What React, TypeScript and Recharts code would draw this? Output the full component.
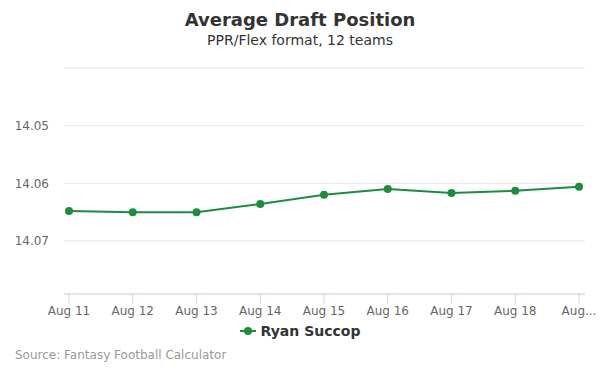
import { LineChart, Line, XAxis, YAxis, CartesianGrid } from "recharts";

const dates = ["Aug 11", "Aug 12", "Aug 13", "Aug 14", "Aug 15", "Aug 16", "Aug 17", "Aug 18", "Aug 19"];
const adp = [14.0648, 14.065, 14.065, 14.0636, 14.062, 14.061, 14.0617, 14.0613, 14.0606];
const yTicks = [14.04, 14.05, 14.06, 14.07];

const GREEN = "#1f8b3e";
const FONT = "'DejaVu Sans', sans-serif";

const data = dates.map((d, i) => ({ date: d, adp: adp[i] }));

export default function App() {
  return (
    <div style={{ position: "absolute", left: 0, top: 0, width: 600, height: 375, background: "#fff", fontFamily: FONT }}>
      <div style={{ position: "absolute", top: 9, width: 600, textAlign: "center", fontSize: 18, fontWeight: "bold", color: "#333" }}>
        Average Draft Position
      </div>
      <div style={{ position: "absolute", top: 32, width: 600, textAlign: "center", fontSize: 14, color: "#333" }}>
        PPR/Flex format, 12 teams
      </div>
      <LineChart width={600} height={375} data={data} margin={{ top: 68, right: 15, bottom: 51, left: 14 }}>
        <CartesianGrid vertical={false} stroke="#e6e6e6" />
        <XAxis
          dataKey="date"
          padding={{ left: 5, right: 6 }}
          stroke="#ccd6eb"
          tickSize={10}
          tickMargin={2}
          height={30}
          interval={0}
          tick={{ fontSize: 12, fill: "#666", fontFamily: FONT }}
          tickFormatter={(v: string, i: number) => (i === dates.length - 1 ? "Aug..." : v)}
        />
        <YAxis
          reversed
          domain={[14.04, 14.0792]}
          ticks={yTicks}
          width={50}
          axisLine={false}
          tickLine={false}
          tickSize={0}
          tickMargin={15}
          allowDataOverflow
          tick={{ fontSize: 12, fill: "#666", fontFamily: FONT }}
          tickFormatter={(v: number) => (v === 14.04 ? "" : v.toFixed(2))}
        />
        <Line
          type="linear"
          dataKey="adp"
          stroke={GREEN}
          strokeWidth={2}
          dot={{ r: 4, fill: GREEN, stroke: GREEN, strokeWidth: 0 }}
          isAnimationActive={false}
        />
      </LineChart>
      <div style={{ position: "absolute", top: 323, width: 600, display: "flex", justifyContent: "center", alignItems: "center" }}>
        <svg width={16} height={10} style={{ marginRight: 5 }}>
          <line x1={0} y1={5} x2={16} y2={5} stroke={GREEN} strokeWidth={2} />
          <circle cx={8} cy={5} r={4} fill={GREEN} />
        </svg>
        <span style={{ fontSize: 14, fontWeight: "bold", color: "#333" }}>Ryan Succop</span>
      </div>
      <div style={{ position: "absolute", top: 348, left: 15, fontSize: 12, color: "#999" }}>
        Source: Fantasy Football Calculator
      </div>
    </div>
  );
}
